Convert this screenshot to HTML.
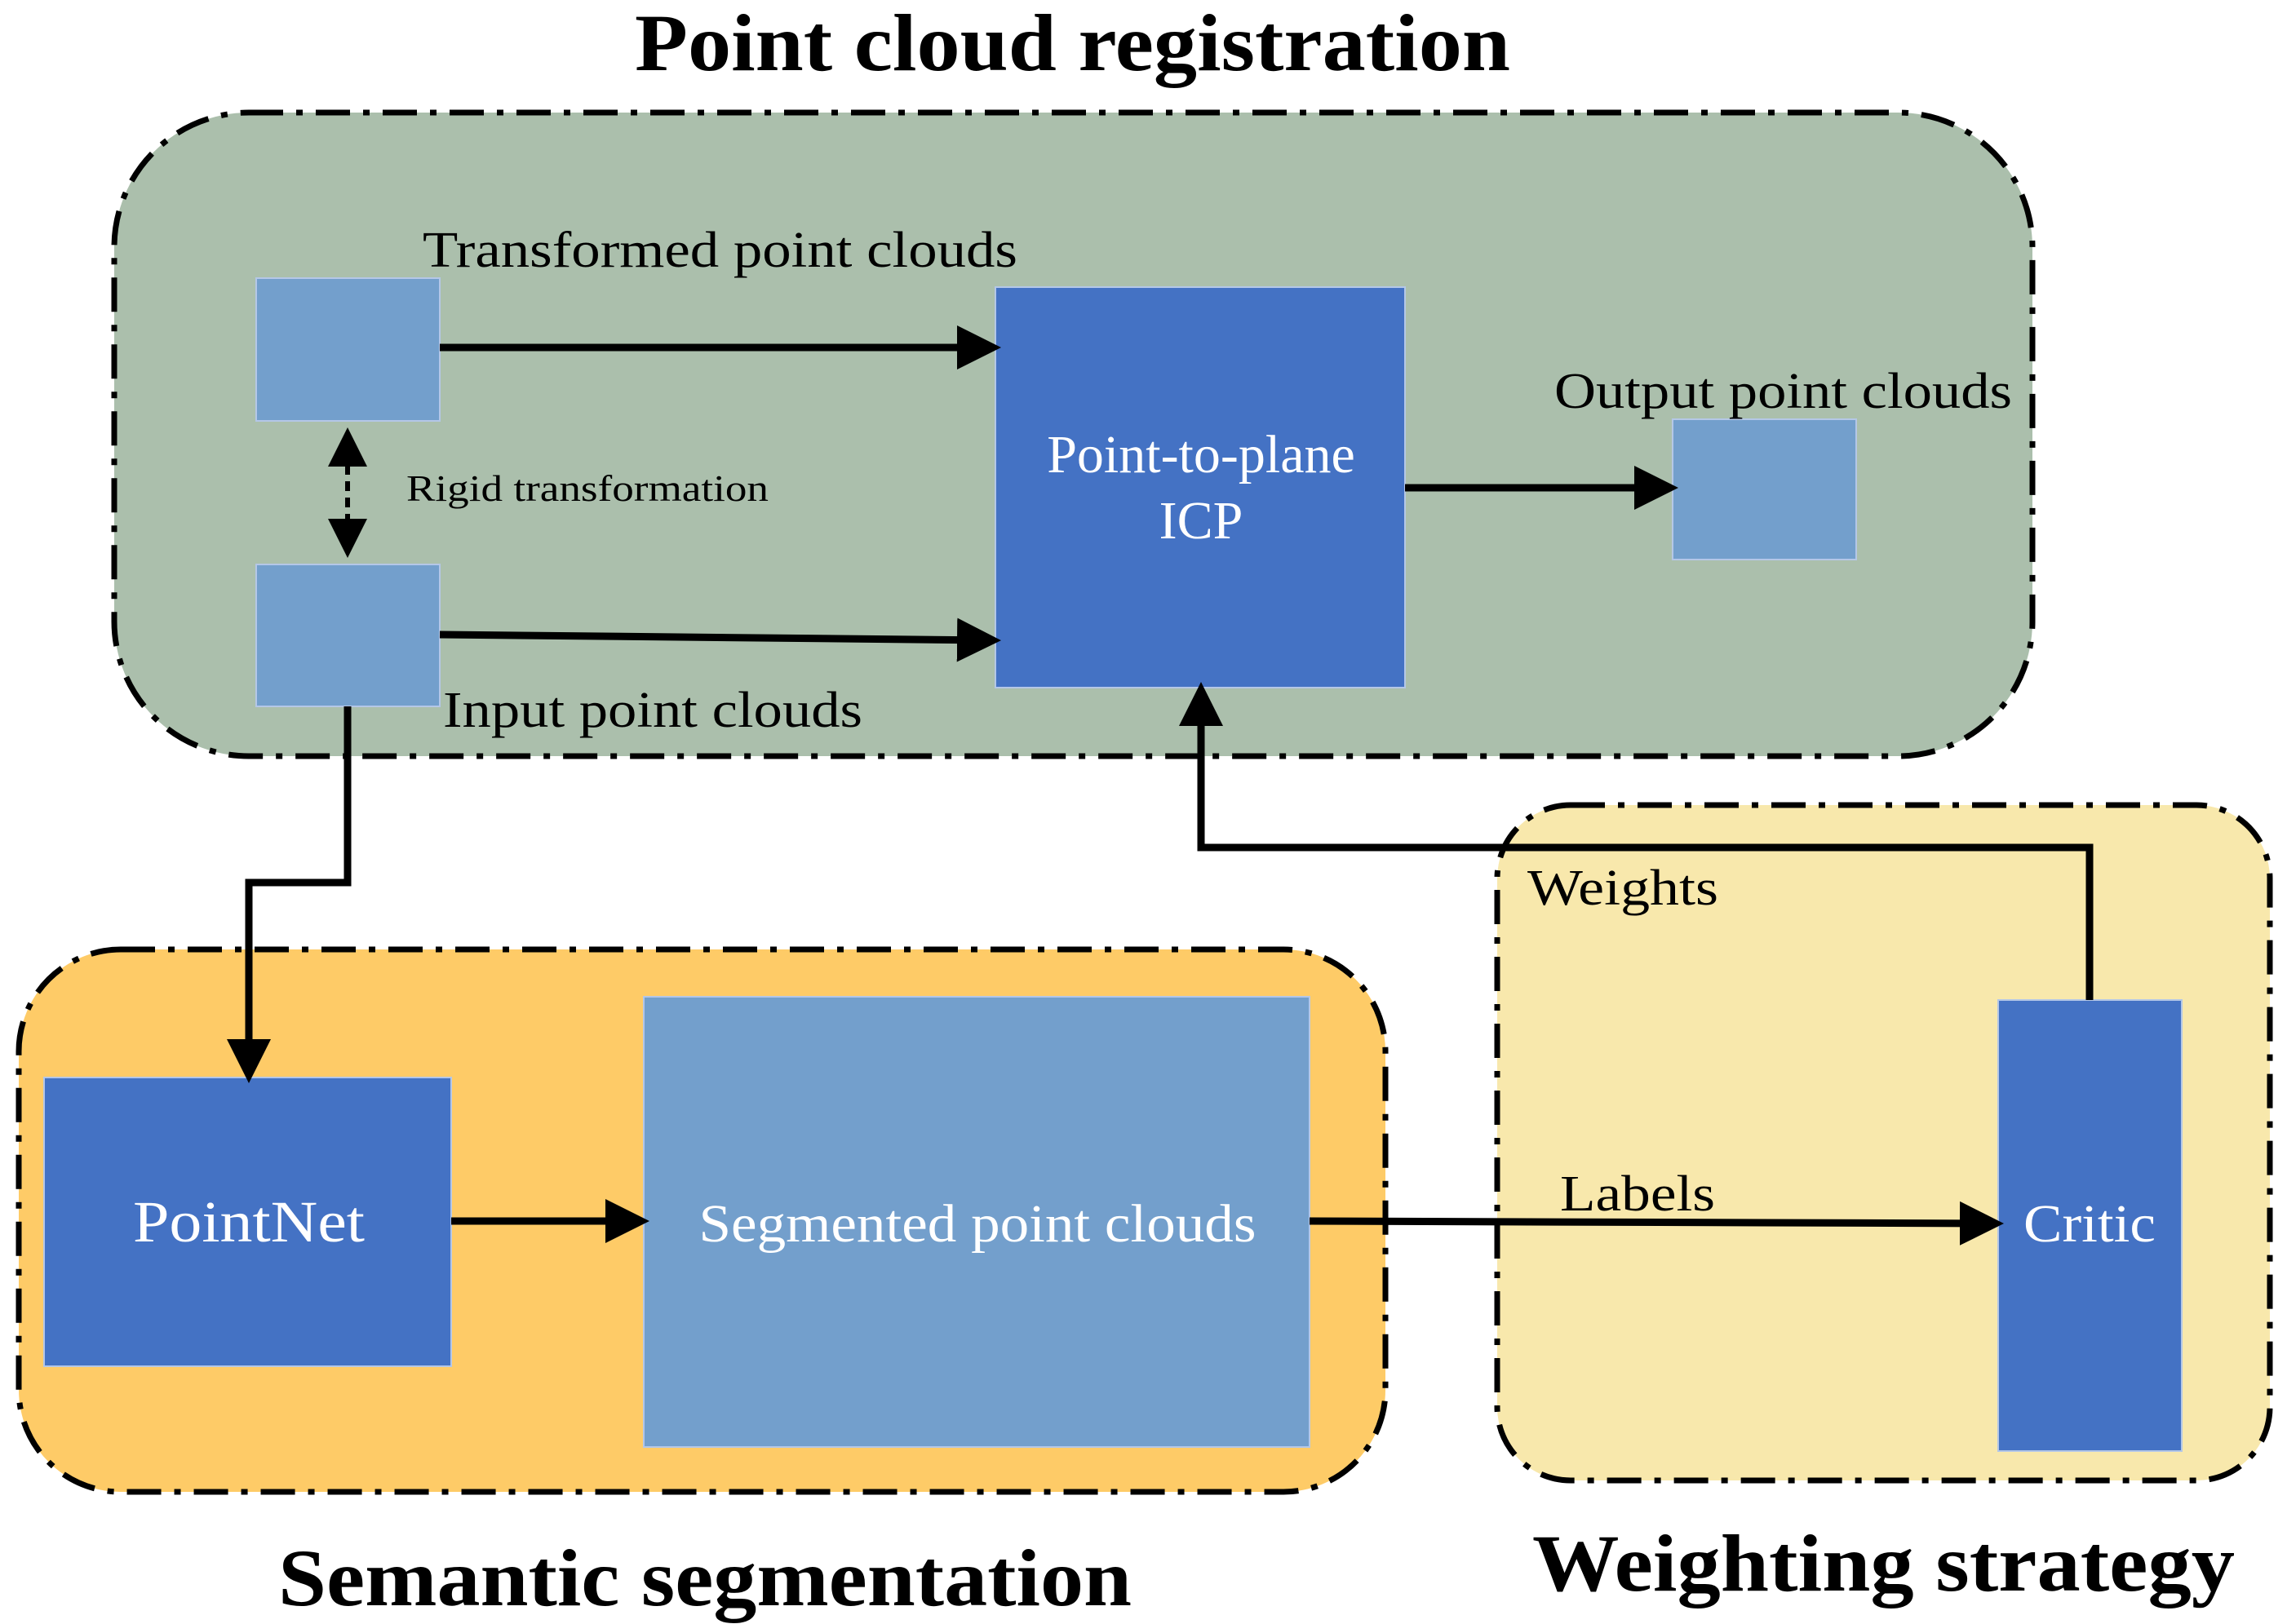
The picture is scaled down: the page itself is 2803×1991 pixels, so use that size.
<!DOCTYPE html>
<html><head><meta charset="utf-8"><style>html,body{margin:0;padding:0;background:#fff}svg{display:block}</style></head><body>
<svg width="2803" height="1991" viewBox="0 0 2803 1991" xmlns="http://www.w3.org/2000/svg" font-family="'Liberation Serif', serif">
<defs>
<marker id="ah" markerWidth="6" markerHeight="6" refX="5" refY="3" orient="auto" markerUnits="strokeWidth"><path d="M0,0 L6,3 L0,6 z" fill="#000"/></marker>
<marker id="ahs" markerWidth="8" markerHeight="8" refX="7" refY="4" orient="auto" markerUnits="strokeWidth"><path d="M0,0 L8,4 L0,8 z" fill="#000"/></marker>
<marker id="ahs2" markerWidth="8" markerHeight="8" refX="1" refY="4" orient="auto" markerUnits="strokeWidth"><path d="M8,0 L0,4 L8,8 z" fill="#000"/></marker>
</defs>
<g stroke="#000" stroke-width="7" stroke-dasharray="42 16 8 16">
<rect x="140" y="138" width="2351" height="789" rx="165" fill="#ABBFAC"/>
<rect x="23" y="1164" width="1675" height="665" rx="125" fill="#FECB67"/>
<rect x="1835" y="987" width="947" height="828" rx="90" fill="#F8E8AC"/>
</g>
<g stroke="#B4C7E7" stroke-width="2">
<rect x="314" y="341" width="225" height="175" fill="#739FCC"/>
<rect x="314" y="692" width="225" height="174" fill="#739FCC"/>
<rect x="1220" y="352" width="502" height="491" fill="#4472C4"/>
<rect x="2050" y="514" width="225" height="172" fill="#739FCC"/>
<rect x="54" y="1321" width="499" height="354" fill="#4472C4"/>
<rect x="789" y="1222" width="816" height="552" fill="#739FCC"/>
<rect x="2449" y="1226" width="225" height="553" fill="#4472C4"/>
</g>
<g stroke="#000" stroke-width="9" fill="none" marker-end="url(#ah)">
<line x1="539" y1="426" x2="1218" y2="426"/>
<line x1="539" y1="778" x2="1218" y2="785"/>
<line x1="1722" y1="598" x2="2048" y2="598"/>
<polyline points="426,866 426,1082 305,1082 305,1319"/>
<line x1="553" y1="1497" x2="787" y2="1497"/>
<line x1="1605" y1="1497" x2="2447" y2="1500"/>
<polyline points="2561,1226 2561,1039 1472,1039 1472,845"/>
</g>
<line x1="426" y1="530" x2="426" y2="678" stroke="#000" stroke-width="6" stroke-dasharray="12 8" marker-end="url(#ahs)" marker-start="url(#ahs2)"/>
<g fill="#000">
<text x="778" y="86" font-size="100" font-weight="bold" textLength="1073" lengthAdjust="spacingAndGlyphs">Point cloud registration</text>
<text x="518" y="327" font-size="62" textLength="729" lengthAdjust="spacingAndGlyphs">Transformed point clouds</text>
<text x="498" y="614" font-size="46" textLength="444" lengthAdjust="spacingAndGlyphs">Rigid transformation</text>
<text x="1905" y="500" font-size="62" textLength="561" lengthAdjust="spacingAndGlyphs">Output point clouds</text>
<text x="543" y="891" font-size="62" textLength="514" lengthAdjust="spacingAndGlyphs">Input point clouds</text>
<text x="1872" y="1109" font-size="62" textLength="234" lengthAdjust="spacingAndGlyphs">Weights</text>
<text x="1912" y="1484" font-size="62" textLength="190" lengthAdjust="spacingAndGlyphs">Labels</text>
<text x="341" y="1968" font-size="100" font-weight="bold" textLength="1046" lengthAdjust="spacingAndGlyphs">Semantic segmentation</text>
<text x="1878" y="1950" font-size="100" font-weight="bold" textLength="861" lengthAdjust="spacingAndGlyphs">Weighting strategy</text>
</g>
<g fill="#fff" text-anchor="middle">
<text x="1472" y="579" font-size="66">Point-to-plane</text>
<text x="1472" y="660" font-size="66">ICP</text>
<text x="305" y="1522" font-size="72" textLength="284" lengthAdjust="spacingAndGlyphs">PointNet</text>
<text x="1198" y="1522" font-size="66" textLength="683" lengthAdjust="spacingAndGlyphs">Segmented point clouds</text>
<text x="2561" y="1522" font-size="66" textLength="162" lengthAdjust="spacingAndGlyphs">Critic</text>
</g>
</svg>
</body></html>
